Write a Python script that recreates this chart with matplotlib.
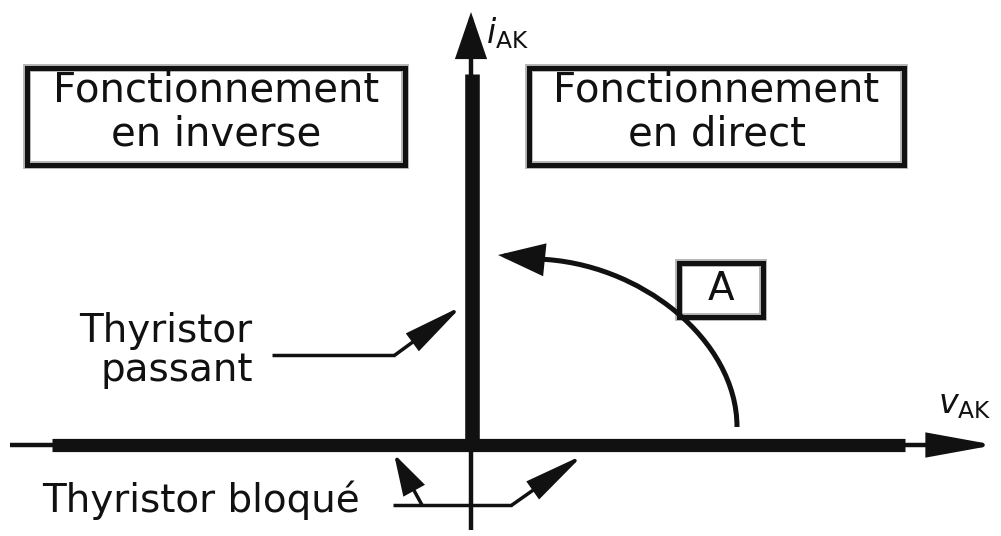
import matplotlib

matplotlib.use("Agg")
import matplotlib.pyplot as plt
from matplotlib.patches import PathPatch, Rectangle
from matplotlib.path import Path

plt.rcParams["font.family"] = ["DejaVu Sans"]
plt.rcParams["mathtext.fontset"] = "dejavusans"

W, H = 1001, 536
INK = "#111111"
HALO = "#b0b0b0"

# static characteristic of the thyristor (picture pixels, y downwards)
off_state_x = [52, 905]
off_state_y = [445, 445]
on_state_x = [472, 472]
on_state_y = [445, 74]

# trajectory "A" (blocked -> conducting): start, two control points, end of the drawn curve
curve_a_x = [737, 737, 640, 537]
curve_a_y = [427, 340, 262, 259]
curve_a_tip = (498, 255)

# quadrant boxes: (left, top, right, bottom), lines of text
boxes = [
    ((27, 68, 405, 165), ["Fonctionnement", "en inverse"]),
    ((529, 68, 904, 165), ["Fonctionnement", "en direct"]),
]
box_a = (679, 263, 763, 317)

# leader lines for the annotations
passant_leader_x = [272, 395]
passant_leader_y = [355, 355]
passant_tip = (462, 306)

bloque_leader_x = [393, 512]
bloque_leader_y = [505, 505]
bloque_left_tip = (394, 454)
bloque_right_tip = (583, 455)


def arrow(ax, start, tip, head_len, head_w, lw, color=INK):
    # head sizes in pixels, converted to points at 100 dpi
    style = "-|>,head_length={:.2f},head_width={:.2f}".format(head_len * 0.72, head_w * 0.36)
    ax.annotate(
        "",
        xy=tip,
        xytext=start,
        arrowprops=dict(
            arrowstyle=style,
            color=color,
            lw=lw,
            shrinkA=0,
            shrinkB=0,
            mutation_scale=1,
            joinstyle="miter",
        ),
    )


def framed_box(ax, rect, lw=3.6):
    x0, y0, x1, y1 = rect
    ax.add_patch(Rectangle((x0, y0), x1 - x0, y1 - y0, fill=False, ec=HALO, lw=lw + 2.0, zorder=3))
    ax.add_patch(Rectangle((x0, y0), x1 - x0, y1 - y0, fill=False, ec=INK, lw=lw, zorder=4))


fig = plt.figure(figsize=(W / 100, H / 100), dpi=100)
ax = fig.add_axes([0, 0, 1, 1])
ax.set_xlim(0, W)
ax.set_ylim(H, 0)
ax.axis("off")

# axes of the diagram
ax.plot([10, 945], [445, 445], color=INK, lw=3.2, solid_capstyle="butt")
arrow(ax, (940, 445), (995, 445), 55, 20, 3.2)
ax.plot([471, 471], [530, 45], color=INK, lw=3.2, solid_capstyle="butt")
arrow(ax, (471, 50), (471, 12), 38, 26, 3.2)

ax.text(486, 43, r"$i_{\mathrm{AK}}$", fontsize=24, color=INK, ha="left", va="baseline")
ax.text(938, 413, r"$v_{\mathrm{AK}}$", fontsize=24, color=INK, ha="left", va="baseline")

# thick branches of the characteristic
ax.plot(off_state_x, off_state_y, color=INK, lw=9.5, solid_capstyle="butt", zorder=5)
ax.plot(on_state_x, on_state_y, color=INK, lw=10.5, solid_capstyle="butt", zorder=5)

# curve A
curve = Path(list(zip(curve_a_x, curve_a_y)), [Path.MOVETO, Path.CURVE4, Path.CURVE4, Path.CURVE4])
ax.add_patch(PathPatch(curve, fill=False, ec=INK, lw=3.6, capstyle="butt", zorder=5))
arrow(ax, (curve_a_x[-1], curve_a_y[-1]), curve_a_tip, 37, 26, 3.6)

framed_box(ax, box_a)
ax.text((box_a[0] + box_a[2]) / 2, 300, "A", fontsize=28, color=INK, ha="center", va="baseline", zorder=6)

for rect, lines in boxes:
    framed_box(ax, rect)
    cx = (rect[0] + rect[2]) / 2
    ax.text(cx, 102, lines[0], fontsize=29, color=INK, ha="center", va="baseline", zorder=6)
    ax.text(cx, 145, lines[1], fontsize=29, color=INK, ha="center", va="baseline", zorder=6)

# "Thyristor passant"
ax.text(166, 342, "Thyristor", fontsize=28, color=INK, ha="center", va="baseline")
ax.text(177, 381, "passant", fontsize=28, color=INK, ha="center", va="baseline")
ax.plot(passant_leader_x, passant_leader_y, color=INK, lw=2.5, solid_capstyle="butt")
arrow(ax, (passant_leader_x[-1], passant_leader_y[-1]), passant_tip, 50, 18, 2.5)

# "Thyristor bloqué"
ax.text(42, 512, "Thyristor bloqué", fontsize=28, color=INK, ha="left", va="baseline")
ax.plot(bloque_leader_x, bloque_leader_y, color=INK, lw=2.5, solid_capstyle="butt")
arrow(ax, (422, 505), bloque_left_tip, 34, 20, 2.5)
arrow(ax, (bloque_leader_x[-1], bloque_leader_y[-1]), bloque_right_tip, 50, 18, 2.5)

fig.savefig("out.png", dpi=100, facecolor="white")
